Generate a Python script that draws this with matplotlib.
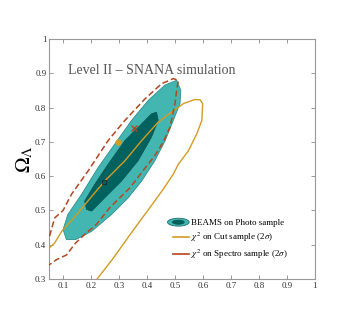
import numpy as np
import matplotlib
matplotlib.use('Agg')
import matplotlib.pyplot as plt
from matplotlib.patches import Ellipse
from matplotlib.legend_handler import HandlerBase
from matplotlib.lines import Line2D

plt.rcParams['font.family'] = ['Liberation Serif', 'DejaVu Serif']
plt.rcParams['mathtext.fontset'] = 'stix'

# BEAMS on photo sample, 2 sigma (outer) and 1 sigma (inner)
beams2_x = [0.506, 0.521, 0.518, 0.494, 0.465, 0.428, 0.381, 0.333, 0.273, 0.202,
            0.145, 0.112, 0.100, 0.117, 0.166, 0.225, 0.285, 0.345, 0.404, 0.464]
beams2_y = [0.880, 0.851, 0.812, 0.763, 0.704, 0.645, 0.586, 0.537, 0.488, 0.439,
            0.415, 0.415, 0.444, 0.488, 0.547, 0.625, 0.694, 0.763, 0.821, 0.866]
beams1_x = [0.434, 0.440, 0.416, 0.368, 0.309, 0.249, 0.202, 0.184, 0.177, 0.213,
            0.261, 0.321, 0.381, 0.416]
beams1_y = [0.787, 0.763, 0.714, 0.645, 0.586, 0.537, 0.498, 0.503, 0.527, 0.576,
            0.635, 0.704, 0.753, 0.782]

# chi2 on cut sample (2 sigma)
cut_x = [0.040, 0.050, 0.070, 0.095, 0.135, 0.178, 0.249, 0.321, 0.381, 0.440,
         0.488, 0.530, 0.571, 0.590, 0.599, 0.596, 0.578, 0.548, 0.512, 0.494,
         0.458, 0.410, 0.339, 0.279, 0.219, 0.210]
cut_y = [0.385, 0.390, 0.405, 0.439, 0.475, 0.517, 0.586, 0.645, 0.704, 0.758,
         0.787, 0.812, 0.824, 0.823, 0.812, 0.763, 0.724, 0.674, 0.635, 0.606,
         0.562, 0.508, 0.429, 0.360, 0.297, 0.285]

# chi2 on spectro sample (2 sigma)
spec_x = [0.040, 0.050, 0.076, 0.112, 0.145, 0.177, 0.219, 0.267, 0.339, 0.399,
          0.428, 0.458, 0.482, 0.500, 0.506, 0.512, 0.494, 0.452, 0.393, 0.321,
          0.261, 0.190, 0.130, 0.100, 0.070, 0.050, 0.040]
spec_y = [0.337, 0.341, 0.356, 0.370, 0.405, 0.430, 0.459, 0.508, 0.566, 0.630,
          0.660, 0.700, 0.743, 0.812, 0.851, 0.880, 0.885, 0.870, 0.826, 0.763,
          0.704, 0.616, 0.547, 0.500, 0.478, 0.420, 0.405]

# best fit points
best_beams = (0.246, 0.583)
best_cut = (0.297, 0.699)
best_spec = (0.354, 0.741)

xticks = [0.1, 0.2, 0.3, 0.4, 0.5, 0.6, 0.7, 0.8, 0.9, 1.0]
yticks = [0.3, 0.4, 0.5, 0.6, 0.7, 0.8, 0.9, 1.0]

light = '#43b6b1'
dark = '#00625e'
edge = '#2f8e8a'
orange = '#d39b22'
red = '#b5471f'


class HandlerEllipse(HandlerBase):
    def create_artists(self, legend, orig_handle, xdescent, ydescent,
                       width, height, fontsize, trans):
        cx = 0.5 * width - xdescent
        cy = 0.5 * height - ydescent
        outer = Ellipse((cx, cy), width, height * 1.25, fc=light,
                        ec='#1d6f6c', lw=0.6, transform=trans)
        inner = Ellipse((cx, cy), width * 0.55, height * 0.65, fc=dark,
                        ec='#004b48', lw=0.4, transform=trans)
        return [outer, inner]


class HandlerShortLine(HandlerBase):
    def create_artists(self, legend, orig_handle, xdescent, ydescent,
                       width, height, fontsize, trans):
        cy = 0.5 * height - ydescent
        ln = Line2D([0.25 * width - xdescent, width - xdescent], [cy, cy],
                    color=orig_handle.get_color(), lw=orig_handle.get_linewidth(),
                    transform=trans)
        return [ln]


fig = plt.figure(figsize=(3.53, 3.27), dpi=100)
ax = fig.add_axes([0.139, 0.147, 0.753, 0.733])

ax.fill(beams2_x, beams2_y, fc=light, ec=edge, lw=0.6, zorder=1)
ax.fill(beams1_x, beams1_y, fc=dark, ec='#0a504d', lw=0.5, zorder=2)
ax.plot(cut_x, cut_y, color=orange, lw=1.0, zorder=3)
ax.plot(spec_x, spec_y, color=red, lw=1.1, dashes=(4, 2), zorder=4)

ax.plot(*best_beams, marker='s', ms=3.5, mfc=dark, mec='#222222', mew=0.5, zorder=5)
ax.plot(*best_cut, marker='o', ms=3.5, color=orange, zorder=5)
ax.plot(*best_spec, marker='x', ms=4, color=red, mew=1.0, zorder=5)

ax.set_xlim(0.05, 1.0)
ax.set_ylim(0.3, 1.0)
ax.set_xticks(xticks)
ax.set_yticks(yticks)
ax.set_xticklabels([('%g' % t) for t in xticks])
ax.set_yticklabels([('%g' % t) for t in yticks])
ax.tick_params(direction='in', length=3, width=0.6, colors='#888888',
               labelcolor='#333333', labelsize=6.5, pad=2,
               top=True, right=True)
for s in ax.spines.values():
    s.set_color('#999999')
    s.set_linewidth(0.8)

ax.set_ylabel(r'$\Omega_\Lambda$', fontsize=15)
ax.yaxis.set_label_coords(-0.05, 0.5)

ax.text(0.071, 0.87, 'Level II \u2013 SNANA simulation', transform=ax.transAxes,
        fontsize=10, color='#555555', va='center', ha='left')

handles = [Ellipse((0, 0), 1, 1),
           Line2D([], [], color=orange, lw=1.2),
           Line2D([], [], color=red, lw=1.2)]
labels = ['BEAMS on Photo sample',
          r'$\chi^2$ on Cut sample (2$\sigma$)',
          r'$\chi^2$ on Spectro sample (2$\sigma$)']
ax.legend(handles, labels,
          handler_map={Ellipse: HandlerEllipse(), Line2D: HandlerShortLine()},
          loc='upper left', bbox_to_anchor=(0.432, 0.265), frameon=False,
          fontsize=6.5, handlelength=2.4, handletextpad=0.2,
          labelspacing=0.4, borderaxespad=0)

fig.savefig('out.png', dpi=100)
